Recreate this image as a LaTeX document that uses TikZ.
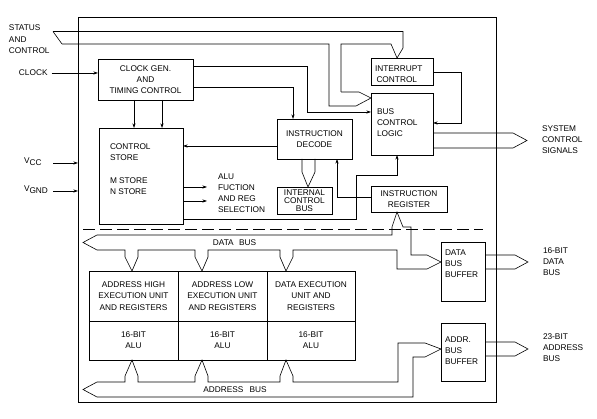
\documentclass[tikz,border=0pt]{standalone}
\usepackage{fontspec}
\setmainfont{Liberation Sans}
\usetikzlibrary{arrows.meta,calc}
\begin{document}
\begin{tikzpicture}[x=1pt,y=-1pt, line width=0.6pt,
  every node/.style={font=\fontsize{8.3}{11}\selectfont, inner sep=0pt, outer sep=0pt},
  box/.style={draw, rectangle, inner sep=0pt, outer sep=0pt, align=center},
  lbl/.style={align=left, anchor=west},
  arr/.style={-{Stealth[length=4.5pt,width=3pt]}},
  bus/.style={line join=miter},
  sep/.style={dash pattern=on 12pt off 5pt}]
\useasboundingbox (0,0) rectangle (597,419);

% outer frame
\node[box, minimum width=418pt, minimum height=385pt] (outer) at (287,209.5) {};

% boxes
\node[box, minimum width=95pt, minimum height=41pt] (cg) at (145.5,79.5) {CLOCK GEN.\\AND\\TIMING CONTROL};
\node[box, minimum width=84pt, minimum height=96pt] (cs) at (141,176) {};
\node[lbl] (cst1) at (110,152.5) {CONTROL\\STORE};
\node[lbl] (cst2) at (110,186) {M STORE\\N STORE};
\node[box, minimum width=75pt, minimum height=40pt] (id) at (314.5,139) {INSTRUCTION\\DECODE};
\node[box, minimum width=55pt, minimum height=27pt, font=\fontsize{8.3}{8.3}\selectfont] (icb) at (304.5,200.5) {INTERNAL\\CONTROL\\BUS};
\node[box, minimum width=76pt, minimum height=26pt] (ir) at (409,199) {INSTRUCTION\\REGISTER};
\node[box, minimum width=62pt, minimum height=27pt] (ic) at (402,71.5) {};
\node[lbl] (ict) at (375,74.5) {INTERRUPT\\\hspace{1.5pt}CONTROL};
\node[box, minimum width=62pt, minimum height=62pt] (bcl) at (402,124) {};
\node[lbl] (bclt) at (377,122.5) {BUS\\CONTROL\\LOGIC};
\node[box, minimum width=44pt, minimum height=59pt] (dbb) at (463,271.5) {};
\node[lbl] (dbbt) at (445,264) {DATA\\BUS\\BUFFER};
\node[box, minimum width=44pt, minimum height=58pt] (abb) at (463,352) {};
\node[lbl] (abbt) at (445,351) {ADDR.\\BUS\\BUFFER};

% execution units
\node[box, minimum width=89pt, minimum height=50pt, font=\fontsize{8.3}{11.5}\selectfont] (eu1) at (133.5,296) {ADDRESS HIGH\\EXECUTION UNIT\\AND REGISTERS};
\node[box, minimum width=89pt, minimum height=39pt] (alu1) at (133.5,340.5) {16-BIT\\ALU};
\node[box, minimum width=89pt, minimum height=50pt, font=\fontsize{8.3}{11.5}\selectfont] (eu2) at (222.5,296) {ADDRESS LOW\\EXECUTION UNIT\\AND REGISTERS};
\node[box, minimum width=89pt, minimum height=39pt] (alu2) at (222.5,340.5) {16-BIT\\ALU};
\node[box, minimum width=88pt, minimum height=50pt, font=\fontsize{8.3}{11.5}\selectfont] (eu3) at (311,296) {DATA EXECUTION\\UNIT AND\\REGISTERS};
\node[box, minimum width=88pt, minimum height=39pt] (alu3) at (311,340.5) {16-BIT\\ALU};

% outside labels
\node[lbl, font=\fontsize{8.3}{11.5}\selectfont] (stat) at (9,39.5) {STATUS\\AND\\CONTROL};
\node[lbl] (clk) at (19,73) {CLOCK};
\node[lbl] (vcc) at (24,162) {V\raisebox{-2.2pt}{CC}};
\node[lbl] (vgnd) at (24,190) {V\raisebox{-2.2pt}{GND}};
\node[lbl] (alut) at (218,193.5) {ALU\\FUCTION\\AND REG\\SELECTION};
\node[lbl] (sys) at (542,140) {SYSTEM\\CONTROL\\SIGNALS};
\node[lbl] (d16) at (543,262) {16-BIT\\DATA\\BUS};
\node[lbl] (a23) at (543,348) {23-BIT\\ADDRESS\\BUS};
\node (dbl) at (234.5,242.5) {DATA\hspace{3pt} BUS};
\node (abl) at (235,389.5) {ADDRESS\hspace{4pt} BUS};

% clock and supply inputs
\draw[arr] ([xshift=4pt]clk.east) -- (cg.west |- clk.east);
\draw[arr] (53,163) -- (outer.west |- 0,163);
\draw[arr] (53,191) -- (outer.west |- 0,191);

% status and control bus
\coordinate (s1) at (53,31.5);
\coordinate (s2) at (62,44);
\coordinate (ictip) at (397,0 |- ic.north);
\coordinate (bcltip) at (bcl.west |- 0,98);
\draw[bus] (s1) -- (s2);
\draw[bus] (s1) -- (403,31.5) -- (403,48) -- (ictip);
\draw[bus] (341,92) -- (341,44) -- (391,44) -- (ictip);
\draw[bus] (341,92) -- (359,92) -- (bcltip);
\draw[bus] (s2) -- (329,44) -- (329,106) -- (356,106) -- (bcltip);

% clock gen outputs
\draw[arr] (cg.east |- 0,66) -- (307,66) -- (307,112) -- (bcl.west |- 0,112);
\draw[arr] (cg.east |- 0,87) -- (293,87) -- (293,0 |- id.north);
\draw[arr] (134,0 |- cg.south) -- (134,0 |- cs.north);
\draw[arr] (162,0 |- cg.south) -- (162,0 |- cs.north);

% decode / control store
\draw[arr] (id.west |- 0,146) -- (cs.east |- 0,146);
\draw[arr] (cs.east |- 0,187) -- (207,187);
\draw[arr] (cs.east |- 0,201) -- (207,201);
\draw[arr] (cs.east |- 0,219) -- (356,219) -- (356,175) -- (397,175) -- (397,0 |- bcl.south);
\draw[arr] (ir.west |- 0,197) -- (337,197) -- (337,0 |- id.south);
\coordinate (icbtip) at (308,0 |- icb.north);
\draw[bus] (302,0 |- id.south) -- (302,172) -- (icbtip) -- (315,172) -- (315,0 |- id.south);

% interrupt -> bus control
\draw[arr] (ic.east |- 0,72) -- (461,72) -- (461,123) -- (bcl.east |- 0,123);

% system control signals
\draw[bus] (bcl.east |- 0,133) -- (513,133) -- (527,140.5) -- (513,148) -- (bcl.east |- 0,148);

% separator
\draw[sep] (83,229) -- (483,229);

% data bus
\coordinate (irtip) at (397,0 |- ir.south);
\coordinate (dbbtip) at (dbb.west |- 0,262);
\draw[bus] (97,235) -- (83,242.5) -- (97,250);
\draw[bus] (97,235) -- (392,235) -- (392,227) -- (irtip) -- (403,227) -- (411,227) -- (411,255) -- (427,255) -- (dbbtip);
\draw[bus] (97,250) -- (125,250) -- (125,257) -- (132,0 |- eu1.north) -- (138,257) -- (138,250)
  -- (195,250) -- (195,257) -- (202,0 |- eu2.north) -- (208,257) -- (208,250)
  -- (280,250) -- (280,257) -- (286,0 |- eu3.north) -- (293,257) -- (293,250)
  -- (397,250) -- (397,269) -- (427,269) -- (dbbtip);
\draw[bus] (dbb.east |- 0,255) -- (515,255) -- (528,262) -- (515,269) -- (dbb.east |- 0,269);

% address bus
\coordinate (abbtip) at (abb.west |- 0,349);
\draw[bus] (97,382) -- (83,389.5) -- (97,397);
\draw[bus] (97,382) -- (125,382) -- (125,376) -- (132,0 |- alu1.south) -- (138,376) -- (138,382)
  -- (195,382) -- (195,376) -- (202,0 |- alu2.south) -- (208,376) -- (208,382)
  -- (280,382) -- (280,376) -- (286,0 |- alu3.south) -- (293,376) -- (293,382)
  -- (398,382) -- (398,343) -- (425,343) -- (abbtip);
\draw[bus] (97,397) -- (413,397) -- (413,357) -- (425,357) -- (abbtip);
\draw[bus] (abb.east |- 0,342) -- (515,342) -- (528,349) -- (515,356) -- (abb.east |- 0,356);
\end{tikzpicture}
\end{document}
